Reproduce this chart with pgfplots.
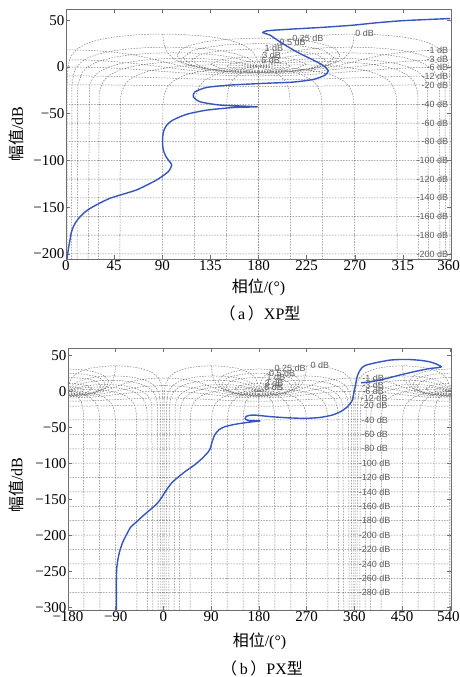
\documentclass[border=0pt]{standalone}
\usepackage{fontspec}
\setmainfont{Liberation Serif}
\newfontfamily\cjk{Noto Sans CJK SC}
\newfontfamily\lab{Liberation Sans}
\usepackage{pgfplots}
\usepackage{pgfplotstable}
\pgfplotsset{compat=1.18}
\definecolor{curve}{HTML}{3556BE}
\definecolor{frame}{HTML}{6E6E6E}
\definecolor{ngridc}{HTML}{7E7E7E}
\definecolor{labc}{HTML}{5E5E5E}

% Nichols grid, left half of one period (critical point at 180 deg, 0 dB)
\pgfplotstableread{
x y
1 -320
1.1 -20
1.5 -6
2 0
3 6
5 12
10 19
20 25.4
30 28.9
45 32
60 33.8
75 34.9
91 35.2
105 34.9
120 33.8
135 32.3
150 29.4
160 26.3
170 20.8
175 15.5
178 9.5
179 6
180 0
nan nan
5 -320
5.5 -20
7.5 -6
10 0
15 6
20 9.5
30 13.7
45 17.4
60 19.5
75 20.65
95 21.2
115 20.65
130 19.5
145 17.4
160 13.7
170 9.5
175 6
180 0
nan nan
10 -320
11 -20
15 -6
20 0
30 5.9
45 10.4
60 12.9
80 14.7
100 15.2
120 14.7
140 12.9
155 10.4
170 5.9
180 0
nan nan
20 -320
22 -19.8
25 -11.9
30 -5.9
40 0
50 3.3
70 7
90 8.8
110 9.3
130 8.8
150 7
170 3.3
180 0
nan nan
30 -320
31 -29.1
32 -23.1
35 -15.2
40 -9.2
50 -3.3
60 0
75 3
90 4.8
120 6
150 4.8
165 3
180 0
nan nan
50 -320
51 -32.8
52 -26.8
55 -18.9
60 -12.9
70 -7
80 -3.7
100 0
120 1.78
140 2.3
160 1.78
180 0
nan nan
90 -320
90.5 -41.2
91 -35.2
92 -29.1
95 -21.2
100 -15.2
110 -9.3
120 -6
135 -3
150 -1.25
165 -0.3
180 0
nan nan
120 -320
120.5 -39.9
121 -33.9
122 -27.9
125 -19.9
130 -14
140 -8.07
150 -4.77
160 -2.59
170 -1.07
180 0
nan nan
150 -320
150.5 -35.2
151 -29.1
152 -23.1
155 -15.2
160 -9.2
165 -5.7
170 -3.3
175 -1.46
180 0
nan nan
180 -320
180 0
nan nan
0 18.27
15 18
30 17.17
45 15.7
60 13.42
75 10.11
90 5.87
105 1.62
120 -1.68
135 -3.97
150 -5.44
165 -6.26
180 -6.53
nan nan
0 7.69
15 7.48
30 6.84
45 5.75
60 4.21
75 2.25
90 0.02
105 -2.21
120 -4.17
135 -5.71
150 -6.8
165 -7.44
180 -7.65
nan nan
0 0.04
30 -0.55
45 -1.28
60 -2.26
75 -3.45
90 -4.74
105 -6.04
120 -7.23
135 -8.21
150 -8.93
180 -9.53
nan nan
0 -9.49
30 -9.78
60 -10.59
90 -11.72
120 -12.84
150 -13.65
180 -13.95
nan nan
0 -19.08
30 -19.21
60 -19.55
90 -20
120 -20.42
150 -20.72
180 -20.83
nan nan
0 -40
180 -40
nan nan
0 -60
180 -60
nan nan
0 -80
180 -80
nan nan
0 -100
180 -100
nan nan
0 -120
180 -120
nan nan
0 -140
180 -140
nan nan
0 -160
180 -160
nan nan
0 -180
180 -180
nan nan
0 -200
180 -200
nan nan
0 -220
180 -220
nan nan
0 -240
180 -240
nan nan
0 -260
180 -260
nan nan
0 -280
180 -280
nan nan
90.5 35.2
91 29.1
92 23.1
95 15.2
100 9.19
110 3.3
120 0
140 -3.71
160 -5.48
180 -6.02
nan nan
180 -5.9
150 -4.6
130 -1.9
115 2.25
108 5.9
103.7 12.5
108 19.2
115 22.8
130 26.9
150 29.6
180 30.9
nan nan
180 -5.8
150 -4.4
130 -1.55
118 1.9
109.25 9.6
118 17.4
130 20.8
150 23.7
180 25.05
nan nan
180 -5.55
150 -4.1
135 -1.9
125 0.7
117 6.9
125 13.1
135 15.7
150 17.8
180 19.3
nan nan
180 -4.65
160 -3.9
145 -1.8
135 3
145 7.9
160 9.9
180 10.7
nan nan
180 -3.5
165 -2.9
155 -1.4
150 1.26
155 3.9
165 5.4
180 6
}\ngrid

% (a) XP type
\pgfplotstableread{
x y
359.5 51.8
335 50.6
312.3 49.3
290 47.2
268.7 44.7
252 43.3
237.5 42.2
222 41.2
209.5 40.4
197 39.5
187.7 38.6
183.9 36.8
190.8 34
200.1 26.8
215.7 16.1
231.3 7.3
239 2.6
242.2 0.1
245.3 -4.2
242.2 -8.8
231.3 -13.4
212.6 -16.2
184.5 -17.6
153.4 -19.4
131.6 -21.9
120.6 -26.6
119 -31.9
125.3 -37.3
144 -40.8
178.9 -42.6
156.6 -43.4
131.6 -46.2
115 -50
106.6 -53.3
99 -57.5
94.2 -62.2
91.5 -68
90.4 -74.7
90.3 -82
91 -88.9
93 -95
95.7 -99.6
98.8 -104.9
95.7 -112
84.8 -120.9
66 -131.6
41.2 -140.5
25.5 -149.4
18 -155
13.1 -160.4
9.5 -165.5
6.8 -171.1
4.8 -178
3.7 -185.3
2.2 -195
1.2 -203
0.6 -206
}\xpdata

% (b) PX type
\pgfplotstableread{
x y
-88.7 -304
-88.7 -260
-88 -245
-85.5 -232
-82.4 -222
-78 -212
-74.8 -206.6
-68 -197
-62.1 -189
-50 -181
-36.8 -172
-24 -164
-11.4 -155.7
-2 -146
7.6 -135
16 -127
26.6 -120
42 -111
58.3 -102.6
72 -94
83.7 -85
88 -80
91 -72
96.3 -61
104 -54
115.3 -49.4
135 -46
153.4 -43.9
168 -42.5
181.9 -41.3
160 -40.6
154 -38.5
156 -35
163 -33.5
172.4 -33.2
190 -34.5
204 -35.5
235 -37
267.4 -37.8
295 -36.5
318 -33.2
335 -28
346.6 -21.7
352 -17
356 -12.4
359 -2
362.5 10.7
365 20
368.8 26.9
374 32.5
381.5 36.1
400 39.5
425.9 43.1
445 44
463.9 44
485 42.8
501.9 40.8
515 37.5
524 33.8
515 32.5
501.9 31.5
475 27.5
444.9 22.3
425 18.5
406.8 15.3
390 13
372 11.6
}\pxdata

\pgfplotsset{
  nichols/.style={
    scale only axis,
    axis line style={frame, line width=0.6pt},
    tick style={frame, line width=0.5pt},
    major tick length=4pt,
    tick label style={font=\fontsize{15}{15}\selectfont, inner sep=1.5pt},
    label style={font=\fontsize{16}{18}\selectfont},
    unbounded coords=jump,
    scaled ticks=false,
  },
  gridln/.style={ngridc, line width=0.5pt, dash pattern=on 1.5pt off 1.3pt, forget plot},
  curvest/.style={curve, line width=1.4pt, line join=round, smooth, tension=0.35},
}
\tikzset{dbl/.style={font=\lab\fontsize{9}{9}\selectfont, text=labc, inner sep=0.5pt}}

\begin{document}
\begin{tikzpicture}
\useasboundingbox (0,0) rectangle (460pt,677pt);

\begin{axis}[nichols,
  at={(66pt,418pt)}, anchor=south west,
  width=385pt, height=250pt,
  xmin=0, xmax=360, ymin=-205.5, ymax=62,
  xtick={0,45,...,360},
  xticklabels={0,45,90,135,180,225,270,315,\kern-5pt 360},
  ytick={-200,-150,-100,-50,0,50},
  yticklabels={−200,−150,−100,−50,0,50},
  xlabel={{\cjk 相位}/(°)},
  ylabel={{\cjk 幅值}/dB},
  xlabel style={at={(axis description cs:0.5,-0.112)}, anchor=center},
  ylabel style={at={(axis description cs:-0.128,0.5)}, anchor=center},
]
\addplot[gridln] table[x index=0, y index=1] {\ngrid};
\addplot[gridln] table[x expr=360-\thisrowno{0}, y index=1] {\ngrid};
\node[dbl, anchor=west] at (axis cs:270,35.5) {0 dB};
\node[dbl, anchor=west] at (axis cs:211,31) {0.25 dB};
\node[dbl, anchor=west] at (axis cs:199,26) {0.5 dB};
\node[dbl, anchor=west] at (axis cs:185,19.5) {1 dB};
\node[dbl, anchor=west] at (axis cs:183,12) {3 dB};
\node[dbl, anchor=west] at (axis cs:182,7) {6 dB};
\node[dbl, anchor=east] at (axis cs:358,18.3) {-1 dB};
\node[dbl, anchor=east] at (axis cs:358,8) {-3 dB};
\node[dbl, anchor=east] at (axis cs:358,0) {-6 dB};
\node[dbl, anchor=east] at (axis cs:358,-9.5) {-12 dB};
\node[dbl, anchor=east] at (axis cs:358,-19.2) {-20 dB};
\foreach \m in {40,60,...,200} {
  \edef\tmp{\noexpand\node[dbl, anchor=east] at (axis cs:358,-\m) {-\m\space dB};}\tmp
}
\addplot[curvest] table[x index=0, y index=1] {\xpdata};
\end{axis}
\node[font=\fontsize{16}{18}\selectfont] at (260pt,364pt) {{\cjk （}\,a\,{\cjk ）}XP{\cjk 型}};

\begin{axis}[nichols,
  at={(68pt,67pt)}, anchor=south west,
  width=383pt, height=262pt,
  xmin=-180, xmax=542, ymin=-304, ymax=60,
  xtick={-180,-90,...,540},
  xticklabels={−180,−90,0,90,180,270,360,450,\kern-3pt 540},
  ytick={-300,-250,...,50},
  yticklabels={−300,−250,−200,−150,−100,−50,0,50},
  xlabel={{\cjk 相位}/(°)},
  ylabel={{\cjk 幅值}/dB},
  xlabel style={at={(axis description cs:0.5,-0.121)}, anchor=center},
  ylabel style={at={(axis description cs:-0.135,0.477)}, anchor=center},
]
\addplot[gridln] table[x expr=\thisrowno{0}-360, y index=1] {\ngrid};
\addplot[gridln] table[x expr=-\thisrowno{0}, y index=1] {\ngrid};
\addplot[gridln] table[x index=0, y index=1] {\ngrid};
\addplot[gridln] table[x expr=360-\thisrowno{0}, y index=1] {\ngrid};
\addplot[gridln] table[x expr=\thisrowno{0}+360, y index=1] {\ngrid};
\addplot[gridln] table[x expr=720-\thisrowno{0}, y index=1] {\ngrid};
\node[dbl, anchor=west] at (axis cs:276,36.5) {0 dB};
\node[dbl, anchor=west] at (axis cs:208,32) {0.25 dB};
\node[dbl, anchor=west] at (axis cs:198,25) {0.5 dB};
\node[dbl, anchor=west] at (axis cs:193,19.5) {1 dB};
\node[dbl, anchor=west] at (axis cs:190,11) {3 dB};
\node[dbl, anchor=west] at (axis cs:189,6) {6 dB};
\node[dbl] at (axis cs:395,18.3) {-1 dB};
\node[dbl] at (axis cs:395,8) {-3 dB};
\node[dbl] at (axis cs:395,0) {-6 dB};
\node[dbl] at (axis cs:397,-9.5) {-12 dB};
\node[dbl] at (axis cs:397,-19.2) {-20 dB};
\foreach \m in {40,60,...,280} {
  \edef\tmp{\noexpand\node[dbl] at (axis cs:398,-\m) {-\m\space dB};}\tmp
}
\addplot[curvest] table[x index=0, y index=1] {\pxdata};
\end{axis}
\node[font=\fontsize{16}{18}\selectfont] at (262pt,9pt) {{\cjk （}\,b\,{\cjk ）}PX{\cjk 型}};
\end{tikzpicture}
\end{document}
